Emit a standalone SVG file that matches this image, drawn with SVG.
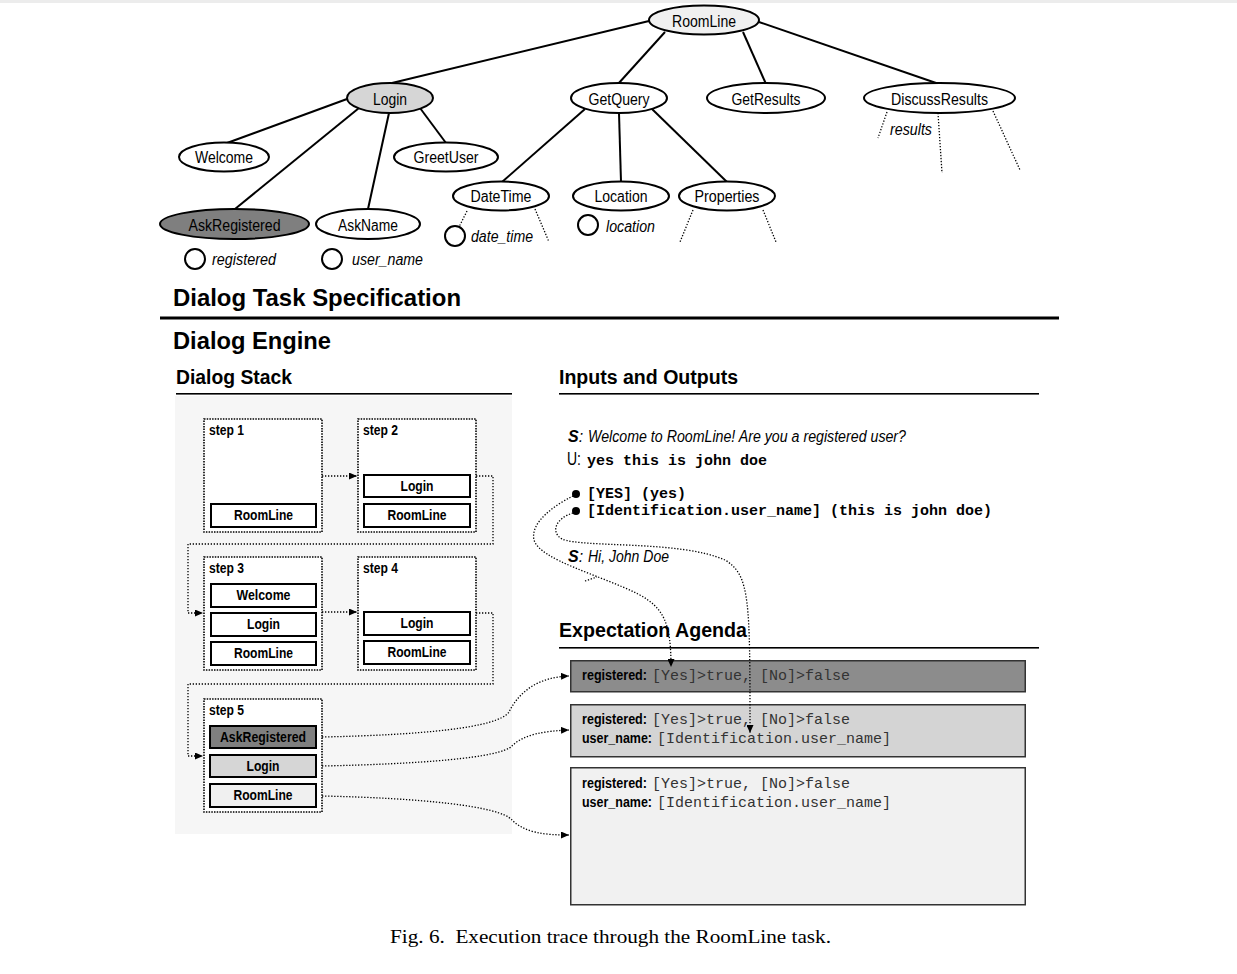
<svg xmlns="http://www.w3.org/2000/svg" width="1237" height="974" viewBox="0 0 1237 974">
<style>
.bg{fill:#fff}
.el{stroke:#000;stroke-width:2;fill:#fff}
.solid{stroke:#000;stroke-width:2;fill:none}
.dot{stroke:#000;stroke-width:1.3;stroke-dasharray:1.3 1.7;fill:none}
.t{font-family:"Liberation Sans",Arial,sans-serif;font-size:16px;text-anchor:middle;fill:#000}
.v{font-family:"Liberation Sans",Arial,sans-serif;font-size:16px;font-style:italic;fill:#000}
.h1{font-family:"Liberation Sans",Arial,sans-serif;font-size:24px;font-weight:bold;fill:#000}
.h2{font-family:"Liberation Sans",Arial,sans-serif;font-size:20px;font-weight:bold;fill:#000}
.step{stroke:#000;stroke-width:1.6;stroke-dasharray:1.5 1.2;fill:#fff}
.sl{font-family:"Liberation Sans",Arial,sans-serif;font-size:14px;font-weight:bold;fill:#000}
.box{stroke:#000;stroke-width:2;fill:#fff}
.bl{font-family:"Liberation Sans",Arial,sans-serif;font-size:15px;font-weight:bold;text-anchor:middle;fill:#000}
.ag{stroke:#333;stroke-width:1.5}
.ak{font-family:"Liberation Sans",Arial,sans-serif;font-size:14.5px;font-weight:bold;fill:#000}
.am{font-family:"Liberation Mono","Courier New",monospace;font-size:15px;fill:#333}
.mono{font-family:"Liberation Mono","Courier New",monospace;font-size:15px;font-weight:bold;fill:#000}
.si{font-family:"Liberation Sans",Arial,sans-serif;font-size:16px;font-style:italic;fill:#000}
.cap{font-family:"Liberation Serif","Times New Roman",serif;font-size:19px;fill:#000}
</style>
<defs>
<marker id="arr" viewBox="0 0 8 7" refX="8" refY="3.5" markerWidth="8" markerHeight="7" markerUnits="userSpaceOnUse" orient="auto">
<path d="M0,0 L8,3.5 L0,7 z" fill="#000"/>
</marker>
</defs>
<rect class="bg" x="0" y="0" width="1237" height="974"/>
<rect x="0" y="0" width="1237" height="3" fill="#ececec"/>

<!-- tree connectors -->
<g id="tree-edges">
<line class="solid" x1="392" y1="83" x2="649" y2="21"/>
<line class="solid" x1="665" y1="32" x2="618" y2="84"/>
<line class="solid" x1="743" y1="32" x2="766" y2="84"/>
<line class="solid" x1="759" y1="22" x2="939" y2="84"/>
<line class="solid" x1="347" y1="99" x2="227" y2="143"/>
<line class="solid" x1="359" y1="108" x2="235" y2="209"/>
<line class="solid" x1="389" y1="113" x2="368" y2="209"/>
<line class="solid" x1="420" y1="108" x2="446" y2="143"/>
<line class="solid" x1="585" y1="109" x2="502" y2="182"/>
<line class="solid" x1="619" y1="113" x2="621" y2="182"/>
<line class="solid" x1="652" y1="109" x2="727" y2="182"/>
<line class="dot" x1="467" y1="211" x2="459" y2="227"/>
<line class="dot" x1="535" y1="209" x2="549" y2="242"/>
<line class="dot" x1="693" y1="210" x2="680" y2="242"/>
<line class="dot" x1="763" y1="210" x2="776" y2="242"/>
<line class="dot" x1="887" y1="112" x2="878" y2="138"/>
<line class="dot" x1="938" y1="113" x2="942" y2="173"/>
<line class="dot" x1="993" y1="111" x2="1020" y2="170"/>
</g>

<g id="n-roomline"><ellipse class="el" cx="704" cy="20" rx="55" ry="14.5" fill="#f0f0f0" style="fill:#f0f0f0"/><text class="t" x="704" y="27" textLength="64" lengthAdjust="spacingAndGlyphs">RoomLine</text></g>
<g id="n-login"><ellipse class="el" cx="390" cy="98" rx="43" ry="15" style="fill:#d6d6d6"/><text class="t" x="390" y="105" textLength="34" lengthAdjust="spacingAndGlyphs">Login</text></g>
<g id="n-getquery"><ellipse class="el" cx="619" cy="98" rx="48" ry="15"/><text class="t" x="619" y="105" textLength="61" lengthAdjust="spacingAndGlyphs">GetQuery</text></g>
<g id="n-getresults"><ellipse class="el" cx="766" cy="98" rx="59" ry="15"/><text class="t" x="766" y="105" textLength="69" lengthAdjust="spacingAndGlyphs">GetResults</text></g>
<g id="n-discussresults"><ellipse class="el" cx="939.5" cy="98" rx="75.5" ry="15"/><text class="t" x="939.5" y="105" textLength="97" lengthAdjust="spacingAndGlyphs">DiscussResults</text><text class="v" x="890" y="135" textLength="42" lengthAdjust="spacingAndGlyphs">results</text></g>
<g id="n-welcome"><ellipse class="el" cx="224" cy="157" rx="45" ry="14.5"/><text class="t" x="224" y="163" textLength="58" lengthAdjust="spacingAndGlyphs">Welcome</text></g>
<g id="n-greetuser"><ellipse class="el" cx="446" cy="157" rx="52" ry="14.5"/><text class="t" x="446" y="163" textLength="65" lengthAdjust="spacingAndGlyphs">GreetUser</text></g>
<g id="n-askregistered"><ellipse class="el" cx="234.5" cy="224" rx="74.5" ry="15" style="fill:#7f7f7f"/><text class="t" x="234.5" y="231" textLength="92" lengthAdjust="spacingAndGlyphs">AskRegistered</text><circle cx="195" cy="259" r="10" class="el"/><text class="v" x="212" y="265" textLength="64" lengthAdjust="spacingAndGlyphs">registered</text></g>
<g id="n-askname"><ellipse class="el" cx="368" cy="224" rx="52" ry="15"/><text class="t" x="368" y="231" textLength="60" lengthAdjust="spacingAndGlyphs">AskName</text><circle cx="332" cy="259" r="10" class="el"/><text class="v" x="352" y="265" textLength="71" lengthAdjust="spacingAndGlyphs">user_name</text></g>
<g id="n-datetime"><ellipse class="el" cx="501" cy="196" rx="48" ry="14.5"/><text class="t" x="501" y="202" textLength="61" lengthAdjust="spacingAndGlyphs">DateTime</text><circle cx="455" cy="236" r="10" class="el"/><text class="v" x="471" y="242" textLength="62" lengthAdjust="spacingAndGlyphs">date_time</text></g>
<g id="n-location"><ellipse class="el" cx="621" cy="196" rx="48" ry="14.5"/><text class="t" x="621" y="202" textLength="53" lengthAdjust="spacingAndGlyphs">Location</text><circle cx="588" cy="225" r="10" class="el"/><text class="v" x="606" y="232" textLength="49" lengthAdjust="spacingAndGlyphs">location</text></g>
<g id="n-properties"><ellipse class="el" cx="727" cy="196" rx="48" ry="14.5"/><text class="t" x="727" y="202" textLength="65" lengthAdjust="spacingAndGlyphs">Properties</text></g>

<!-- headings -->
<g id="headings">
<text class="h1" x="173" y="306" textLength="288" lengthAdjust="spacingAndGlyphs">Dialog Task Specification</text>
<rect x="160" y="316.5" width="899" height="3" fill="#000"/>
<text class="h1" x="173" y="349" textLength="158" lengthAdjust="spacingAndGlyphs">Dialog Engine</text>
<text class="h2" x="176" y="384" textLength="116" lengthAdjust="spacingAndGlyphs">Dialog Stack</text>
<rect x="176" y="393" width="336" height="1.6" fill="#000"/>
<text class="h2" x="559" y="384" textLength="179" lengthAdjust="spacingAndGlyphs">Inputs and Outputs</text>
<rect x="559" y="393" width="480" height="1.6" fill="#000"/>
<text class="h2" x="559" y="637" textLength="188" lengthAdjust="spacingAndGlyphs">Expectation Agenda</text>
<rect x="559" y="647" width="480" height="1.6" fill="#000"/>
</g>

<rect x="175" y="396" width="337" height="438" fill="#f6f6f6"/>

<g id="step1">
<rect class="step" x="204" y="419" width="118" height="113"/>
<text class="sl" x="209" y="435" textLength="35" lengthAdjust="spacingAndGlyphs">step 1</text>
<rect class="box" x="211" y="504" width="105" height="23"/><text class="bl" x="263.5" y="520" textLength="59" lengthAdjust="spacingAndGlyphs">RoomLine</text>
</g>
<g id="step2">
<rect class="step" x="358" y="419" width="118" height="113"/>
<text class="sl" x="363" y="435" textLength="35" lengthAdjust="spacingAndGlyphs">step 2</text>
<rect class="box" x="364" y="475" width="106" height="22"/><text class="bl" x="417" y="491" textLength="33" lengthAdjust="spacingAndGlyphs">Login</text>
<rect class="box" x="364" y="504" width="106" height="23"/><text class="bl" x="417" y="520" textLength="59" lengthAdjust="spacingAndGlyphs">RoomLine</text>
</g>
<g id="step3">
<rect class="step" x="204" y="557" width="118" height="113"/>
<text class="sl" x="209" y="573" textLength="35" lengthAdjust="spacingAndGlyphs">step 3</text>
<rect class="box" x="211" y="584" width="105" height="23"/><text class="bl" x="263.5" y="600" textLength="54" lengthAdjust="spacingAndGlyphs">Welcome</text>
<rect class="box" x="211" y="613" width="105" height="23"/><text class="bl" x="263.5" y="629" textLength="33" lengthAdjust="spacingAndGlyphs">Login</text>
<rect class="box" x="211" y="642" width="105" height="23"/><text class="bl" x="263.5" y="658" textLength="59" lengthAdjust="spacingAndGlyphs">RoomLine</text>
</g>
<g id="step4">
<rect class="step" x="358" y="557" width="118" height="113"/>
<text class="sl" x="363" y="573" textLength="35" lengthAdjust="spacingAndGlyphs">step 4</text>
<rect class="box" x="364" y="612" width="106" height="23"/><text class="bl" x="417" y="628" textLength="33" lengthAdjust="spacingAndGlyphs">Login</text>
<rect class="box" x="364" y="641" width="106" height="23"/><text class="bl" x="417" y="657" textLength="59" lengthAdjust="spacingAndGlyphs">RoomLine</text>
</g>
<g id="step5">
<rect class="step" x="204" y="699" width="118" height="113"/>
<text class="sl" x="209" y="715" textLength="35" lengthAdjust="spacingAndGlyphs">step 5</text>
<rect class="box" x="210" y="726" width="106" height="22" style="fill:#7f7f7f"/><text class="bl" x="263" y="742" textLength="86" lengthAdjust="spacingAndGlyphs">AskRegistered</text>
<rect class="box" x="210" y="755" width="106" height="22" style="fill:#d6d6d6"/><text class="bl" x="263" y="771" textLength="33" lengthAdjust="spacingAndGlyphs">Login</text>
<rect class="box" x="210" y="784" width="106" height="23" style="fill:#f0f0f0"/><text class="bl" x="263" y="800" textLength="59" lengthAdjust="spacingAndGlyphs">RoomLine</text>
</g>

<g id="io">
<text class="si" x="568" y="442"><tspan font-weight="bold">S</tspan><tspan>: </tspan></text>
<text class="si" x="588" y="442" textLength="318" lengthAdjust="spacingAndGlyphs">Welcome to RoomLine! Are you a registered user?</text>
<text x="567" y="465" font-family="Liberation Sans, Arial, sans-serif" font-size="18" textLength="14" lengthAdjust="spacingAndGlyphs">U:</text>
<text class="mono" x="587" y="465">yes this is john doe</text>
<circle cx="576" cy="494" r="4" fill="#000"/>
<circle cx="576" cy="511" r="4" fill="#000"/>
<text class="mono" x="587" y="498" xml:space="preserve">[YES] (yes)</text>
<text class="mono" x="587" y="515">[Identification.user_name] (this is john doe)</text>
<text class="si" x="568" y="562"><tspan font-weight="bold">S</tspan><tspan>: </tspan></text>
<text class="si" x="588" y="562" textLength="81" lengthAdjust="spacingAndGlyphs">Hi, John Doe</text>
</g>

<g id="agenda1">
<rect class="ag" x="570.75" y="660.75" width="454.5" height="31" fill="#8c8c8c"/>
<text class="ak" x="582" y="680" textLength="65" lengthAdjust="spacingAndGlyphs">registered:</text>
<text class="am" x="652" y="680">[Yes]&gt;true, [No]&gt;false</text>
</g>
<g id="agenda2">
<rect class="ag" x="570.75" y="704.75" width="454.5" height="52" fill="#d4d4d4"/>
<text class="ak" x="582" y="724" textLength="65" lengthAdjust="spacingAndGlyphs">registered:</text>
<text class="am" x="652" y="724">[Yes]&gt;true, [No]&gt;false</text>
<text class="ak" x="582" y="743" textLength="70" lengthAdjust="spacingAndGlyphs">user_name:</text>
<text class="am" x="657" y="743">[Identification.user_name]</text>
</g>
<g id="agenda3">
<rect class="ag" x="570.75" y="767.75" width="454.5" height="137" fill="#f1f1f1"/>
<text class="ak" x="582" y="788" textLength="65" lengthAdjust="spacingAndGlyphs">registered:</text>
<text class="am" x="652" y="788">[Yes]&gt;true, [No]&gt;false</text>
<text class="ak" x="582" y="807" textLength="70" lengthAdjust="spacingAndGlyphs">user_name:</text>
<text class="am" x="657" y="807">[Identification.user_name]</text>
</g>

<g id="connectors">
<path class="dot" d="M322,476 L357,476" marker-end="url(#arr)"/>
<path class="dot" d="M476,476 L493,476 L493,544 L188,544 L188,613 L203,613" marker-end="url(#arr)"/>
<path class="dot" d="M322,612 L357,612" marker-end="url(#arr)"/>
<path class="dot" d="M476,613 L493,613 L493,684 L188,684 L188,756 L203,756" marker-end="url(#arr)"/>
<path class="dot" d="M322,737 C420,735 498,728 509,712 C520,690 540,677 569,676" marker-end="url(#arr)"/>
<path class="dot" d="M322,766 C420,764 500,758 512,746 C524,734 545,731 569,730" marker-end="url(#arr)"/>
<path class="dot" d="M322,796 C420,798 500,806 512,820 C525,833 545,835 569,835" marker-end="url(#arr)"/>
<path class="dot" d="M573,496 C555,505 530,522 534,540 C540,560 600,575 638,594 C665,608 671,625 671,667" marker-end="url(#arr)"/>
<path class="dot" d="M573,513 C556,518 550,532 562,539 C582,548 680,540 725,560 C750,575 750,600 750,733" marker-end="url(#arr)"/>
<path class="dot" d="M585,581 L597,577"/>
</g>

<text class="cap" x="390" y="943" textLength="441" lengthAdjust="spacingAndGlyphs">Fig. 6.&#160; Execution trace through the RoomLine task.</text>
</svg>
